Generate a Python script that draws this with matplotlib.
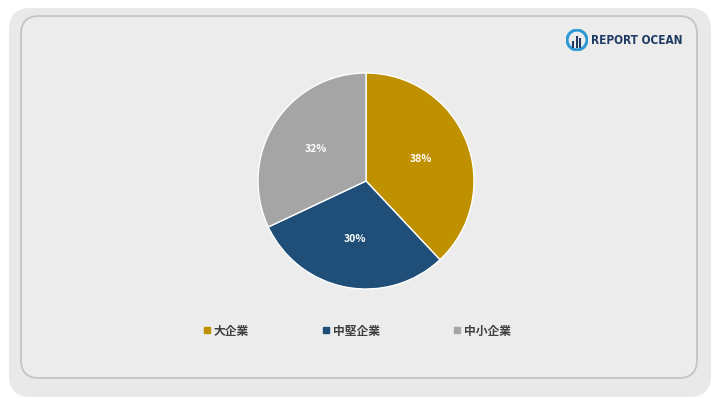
import matplotlib
matplotlib.use("Agg")
import matplotlib.pyplot as plt
from matplotlib.patches import FancyBboxPatch, Circle, Rectangle
from matplotlib.lines import Line2D

plt.rcParams["font.family"] = ["Noto Sans CJK JP", "DejaVu Sans"]

# ----------------------------------------------------------------------------
# Data
# ----------------------------------------------------------------------------
labels = ["大企業", "中堅企業", "中小企業"]
shares = [38, 30, 32]
colors = ["#bf9000", "#1f4e79", "#a5a5a5"]

W, H = 720, 405
fig = plt.figure(figsize=(W / 100, H / 100), dpi=100)
fig.patch.set_facecolor("white")


def px_box(x0, y0, x1, y1):
    # pixel box (top-left origin) -> figure fraction rect
    return (x0 / W, 1 - y1 / H, (x1 - x0) / W, (y1 - y0) / H)


# background panels (kept under the axes)
outer = FancyBboxPatch((9 / W, 1 - 397 / H), 702 / W, 389 / H,
                       boxstyle="round,pad=0,rounding_size=0.03",
                       transform=fig.transFigure, facecolor="#e9e9e9",
                       edgecolor="none", mutation_aspect=W / H, zorder=-2)
fig.patches.append(outer)
inner = FancyBboxPatch((21 / W, 1 - 378 / H), 676 / W, 362 / H,
                       boxstyle="round,pad=0,rounding_size=0.025",
                       transform=fig.transFigure, facecolor="#ececec",
                       edgecolor="#c4c4c4", linewidth=1.3,
                       mutation_aspect=W / H, zorder=-1)
fig.patches.append(inner)

# pie
ax = fig.add_axes(px_box(258, 73, 474, 289))
ax.patch.set_visible(False)
wedges, _, autotexts = ax.pie(
    shares, colors=colors, startangle=90, counterclock=False,
    autopct=lambda p: f"{p:.0f}%", pctdistance=0.55,
    wedgeprops=dict(edgecolor="white", linewidth=1.0),
    textprops=dict(color="white", fontsize=7.5, fontweight="bold"))
ax.set_xlim(-1.0, 1.0)
ax.set_ylim(-1.0, 1.0)
ax.set_aspect("equal")

# legend
handles = [Line2D([], [], marker="s", linestyle="none", markersize=5,
                  markerfacecolor=c, markeredgecolor=c) for c in colors]
fig.legend(handles, labels, loc="center", ncol=3,
           bbox_to_anchor=(357 / W, 1 - 331 / H), frameon=False,
           handlelength=0.6, handletextpad=0.3, columnspacing=6.2,
           prop=dict(size=8.5, weight="bold"), labelcolor="#404040")

# logo
lax = fig.add_axes(px_box(566, 29, 588, 51))
lax.set_xlim(0, 1)
lax.set_ylim(0, 1)
lax.axis("off")
lax.add_patch(Circle((0.5, 0.5), 0.45, facecolor="none",
                     edgecolor="#2e9bd6", linewidth=2.2))
for bx, bh in [(0.28, 0.35), (0.44, 0.55), (0.6, 0.45)]:
    lax.add_patch(Rectangle((bx, 0.12), 0.1, bh, facecolor="#1f3b63"))
fig.text(591 / W, 1 - 40 / H, "REPORT OCEAN", fontsize=8.5,
         fontweight="bold", color="#1f3b63", va="center", ha="left",
         family=["DejaVu Sans"], stretch="condensed")

fig.savefig("out.png", dpi=100)
